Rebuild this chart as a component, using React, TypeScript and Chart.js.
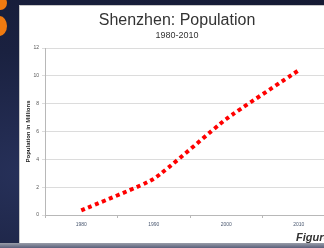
import React, { useEffect, useRef } from "react";
import { Chart, registerables } from "chart.js";

Chart.register(...registerables);

const years = ["1980", "1990", "2000", "2010"];
const population = [0.33, 2.6, 6.9, 10.4];
const yTicks = [0, 2, 4, 6, 8, 10, 12];
const titleText = "Shenzhen: Population";
const subtitleText = "1980-2010";
const yTitle = "Population in Millions";

export default function App() {
  const ref = useRef<HTMLCanvasElement | null>(null);

  useEffect(() => {
    document.body.style.margin = "0";
    const canvas = ref.current;
    if (!canvas) return;
    const chart = new Chart(canvas, {
      type: "line",
      data: {
        labels: years,
        datasets: [
          {
            data: population,
            borderColor: "#ff0000",
            borderWidth: 4,
            borderDash: [4, 3.5],
            borderCapStyle: "butt",
            pointRadius: 0,
            tension: 0.15,
            fill: false,
          },
        ],
      },
      options: {
        responsive: false,
        animation: false,
        events: [],
        layout: { padding: { top: 6, left: 0, right: 0, bottom: 0 } },
        plugins: {
          legend: { display: false },
          tooltip: { enabled: false },
          title: {
            display: true,
            text: titleText,
            color: "#333333",
            font: { family: "Liberation Sans, Arial, sans-serif", size: 16, weight: "normal" },
            padding: { top: 0, bottom: 0 },
          },
          subtitle: {
            display: true,
            text: subtitleText,
            color: "#333333",
            font: { family: "Liberation Sans, Arial, sans-serif", size: 9 },
            padding: { top: 0, bottom: 7 },
          },
        },
        scales: {
          x: {
            type: "category",
            offset: true,
            grid: {
              offset: true,
              drawOnChartArea: false,
              drawTicks: true,
              tickLength: 3,
              color: "#b8b8b8",
            },
            border: { display: true, color: "#b8b8b8", width: 1 },
            ticks: {
              color: "#4a5870",
              padding: 4,
              maxRotation: 0,
              font: { family: "Liberation Sans, Arial, sans-serif", size: 5 },
            },
            afterFit: (s: any) => {
              s.height = 28;
            },
          },
          y: {
            min: 0,
            max: 12,
            afterBuildTicks: (s: any) => {
              s.ticks = yTicks.map((v) => ({ value: v }));
            },
            grid: {
              color: "#dcdcdc",
              drawTicks: true,
              tickLength: 3,
            },
            border: { display: true, color: "#b8b8b8", width: 1 },
            ticks: {
              color: "#555555",
              padding: 3,
              font: { family: "Liberation Sans, Arial, sans-serif", size: 5 },
            },
            title: {
              display: true,
              text: yTitle,
              color: "#222222",
              font: { family: "Liberation Sans, Arial, sans-serif", size: 6, weight: "bold" },
              padding: { top: 6, bottom: 0 },
            },
            afterFit: (s: any) => {
              s.width = 26;
            },
          },
        },
      },
    });
    return () => chart.destroy();
  }, []);

  return (
    <div
      style={{
        position: "fixed",
        left: 0,
        top: 0,
        width: 324,
        height: 248,
        overflow: "hidden",
        background: "radial-gradient(ellipse at 10% 70%, #27315a 0%, #1a2140 50%, #151a33 100%)",
      }}
    >
      <div
        style={{
          position: "absolute",
          left: -6,
          top: -4,
          width: 13,
          height: 14,
          borderRadius: "50%",
          background: "#f07a10",
        }}
      />
      <div
        style={{
          position: "absolute",
          left: -8,
          top: 16,
          width: 15,
          height: 20,
          borderRadius: "50%",
          background: "#f07a10",
        }}
      />
      <div
        style={{
          position: "absolute",
          left: 0,
          top: 243,
          width: 324,
          height: 5,
          background: "linear-gradient(#9a9eaa, #5a607a)",
        }}
      />
      <div
        style={{
          position: "absolute",
          left: 19,
          top: 5,
          width: 320,
          height: 238,
          background: "#ffffff",
          borderLeft: "1px solid #c8c8c8",
          borderTop: "1px solid #c8c8c8",
          boxSizing: "border-box",
        }}
      />
      <canvas
        ref={ref}
        width={316}
        height={238}
        style={{ position: "absolute", left: 19, top: 5, width: 316, height: 238 }}
      />
      <div
        style={{
          position: "absolute",
          left: 296,
          top: 232,
          fontFamily: "Liberation Sans, Arial, sans-serif",
          fontWeight: "bold",
          fontStyle: "italic",
          fontSize: 11,
          lineHeight: "11px",
          color: "#333333",
          whiteSpace: "nowrap",
        }}
      >
        Figure
      </div>
    </div>
  );
}
